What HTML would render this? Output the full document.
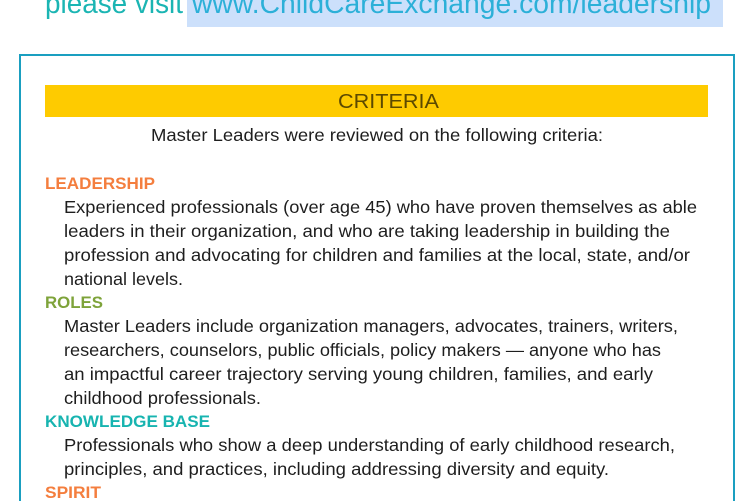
<!DOCTYPE html>
<html><head><meta charset="utf-8"><style>
html,body{margin:0;padding:0;background:#fff;width:750px;height:501px;overflow:hidden}
svg{display:block}
text{font-family:"Liberation Sans",sans-serif}
.b{font-size:17.5px;fill:#1e1e1e}
.h{font-size:17px;font-weight:bold}
</style></head><body>
<svg width="750" height="501" viewBox="0 0 750 501" xmlns="http://www.w3.org/2000/svg">
<rect x="187" y="-2" width="536" height="29" fill="#cce0fb"/>
<text x="45" y="13" font-size="29" fill="#1bb5b3" textLength="138" lengthAdjust="spacingAndGlyphs">please visit</text>
<text x="192" y="13" font-size="29" fill="#2cb0d8" textLength="519" lengthAdjust="spacingAndGlyphs">www.ChildCareExchange.com/leadership</text>
<rect x="20" y="55" width="714" height="460" fill="none" stroke="#1a9fc0" stroke-width="2"/>
<rect x="45" y="85" width="663" height="32" fill="#fecb00"/>
<text x="338" y="108" font-size="20" fill="#5c4a00" textLength="101" lengthAdjust="spacingAndGlyphs">CRITERIA</text>
<text class="b" x="151" y="141" textLength="452" lengthAdjust="spacingAndGlyphs">Master Leaders were reviewed on the following criteria:</text>

<text class="h" x="45" y="189" fill="#f47e3e" textLength="110" lengthAdjust="spacingAndGlyphs">LEADERSHIP</text>
<text class="b" x="64" y="213" textLength="633" lengthAdjust="spacingAndGlyphs">Experienced professionals (over age 45) who have proven themselves as able</text>
<text class="b" x="64" y="237" textLength="606" lengthAdjust="spacingAndGlyphs">leaders in their organization, and who are taking leadership in building the</text>
<text class="b" x="64" y="261" textLength="626" lengthAdjust="spacingAndGlyphs">profession and advocating for children and families at the local, state, and/or</text>
<text class="b" x="64" y="285" textLength="119" lengthAdjust="spacingAndGlyphs">national levels.</text>

<text class="h" x="45" y="308" fill="#7ea33a" textLength="58" lengthAdjust="spacingAndGlyphs">ROLES</text>
<text class="b" x="64" y="332" textLength="614" lengthAdjust="spacingAndGlyphs">Master Leaders include organization managers, advocates, trainers, writers,</text>
<text class="b" x="64" y="356" textLength="597" lengthAdjust="spacingAndGlyphs">researchers, counselors, public officials, policy makers — anyone who has</text>
<text class="b" x="64" y="380" textLength="589" lengthAdjust="spacingAndGlyphs">an impactful career trajectory serving young children, families, and early</text>
<text class="b" x="64" y="404" textLength="197" lengthAdjust="spacingAndGlyphs">childhood professionals.</text>

<text class="h" x="45" y="427" fill="#17b4b0" textLength="165" lengthAdjust="spacingAndGlyphs">KNOWLEDGE BASE</text>
<text class="b" x="64" y="451" textLength="611" lengthAdjust="spacingAndGlyphs">Professionals who show a deep understanding of early childhood research,</text>
<text class="b" x="64" y="475" textLength="545" lengthAdjust="spacingAndGlyphs">principles, and practices, including addressing diversity and equity.</text>

<text class="h" x="45" y="498" fill="#f47e3e" textLength="56" lengthAdjust="spacingAndGlyphs">SPIRIT</text>
</svg>
</body></html>
